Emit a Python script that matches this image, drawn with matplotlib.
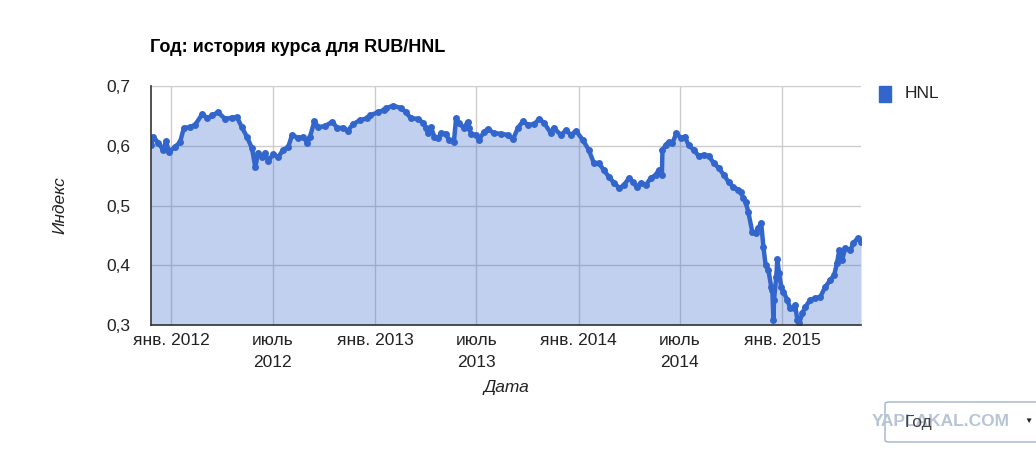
#!/usr/bin/env python3
"""RUB/HNL exchange rate history, Google Charts style area chart."""

import matplotlib
matplotlib.use("Agg")
import matplotlib.pyplot as plt
import matplotlib.patches as mpatches
import pandas as pd

plt.rcParams["font.family"] = ["Liberation Sans", "DejaVu Sans"]

TITLE = "Год: история курса для RUB/HNL"
SERIES_NAME = "HNL"

DATES = [
    "2011-11-26", "2011-11-30", "2011-12-09", "2011-12-18", "2011-12-23", "2011-12-28",
    "2012-01-08", "2012-01-17", "2012-01-24", "2012-02-04", "2012-02-13", "2012-02-26",
    "2012-03-06", "2012-03-15", "2012-03-25", "2012-04-07", "2012-04-19", "2012-04-28",
    "2012-05-07", "2012-05-16", "2012-05-25", "2012-05-31", "2012-06-05", "2012-06-12",
    "2012-06-18", "2012-06-23", "2012-07-02", "2012-07-11", "2012-07-20", "2012-07-29",
    "2012-08-05", "2012-08-16", "2012-08-25", "2012-09-01", "2012-09-06", "2012-09-14",
    "2012-09-21", "2012-10-03", "2012-10-16", "2012-10-25", "2012-11-05", "2012-11-13",
    "2012-11-22", "2012-12-05", "2012-12-18", "2012-12-23", "2013-01-06", "2013-01-17",
    "2013-01-21", "2013-02-02", "2013-02-17", "2013-02-25", "2013-03-06", "2013-03-19",
    "2013-03-28", "2013-04-02", "2013-04-06", "2013-04-11", "2013-04-17", "2013-04-24",
    "2013-04-29", "2013-05-08", "2013-05-13", "2013-05-22", "2013-05-26", "2013-05-31",
    "2013-06-09", "2013-06-16", "2013-06-18", "2013-06-22", "2013-07-01", "2013-07-06",
    "2013-07-15", "2013-07-22", "2013-08-02", "2013-08-15", "2013-08-27", "2013-09-05",
    "2013-09-14", "2013-09-23", "2013-10-02", "2013-10-13", "2013-10-22", "2013-10-31",
    "2013-11-12", "2013-11-17", "2013-11-30", "2013-12-09", "2013-12-18", "2013-12-27",
    "2014-01-08", "2014-01-19", "2014-01-28", "2014-02-06", "2014-02-15", "2014-02-24",
    "2014-03-05", "2014-03-15", "2014-03-23", "2014-04-01", "2014-04-08", "2014-04-15",
    "2014-04-22", "2014-05-01", "2014-05-10", "2014-05-19", "2014-05-24", "2014-05-30",
    "2014-05-31", "2014-06-06", "2014-06-11", "2014-06-18", "2014-06-25", "2014-07-03",
    "2014-07-10", "2014-07-17", "2014-07-26", "2014-08-04", "2014-08-13", "2014-08-22",
    "2014-08-31", "2014-09-09", "2014-09-18", "2014-09-27", "2014-10-05", "2014-10-14",
    "2014-10-18", "2014-10-23", "2014-10-27", "2014-11-01", "2014-11-08", "2014-11-14",
    "2014-11-19", "2014-11-24", "2014-11-28", "2014-12-02", "2014-12-07", "2014-12-12",
    "2014-12-14", "2014-12-16", "2014-12-17", "2014-12-21", "2014-12-23", "2014-12-26",
    "2014-12-30", "2015-01-03", "2015-01-10", "2015-01-15", "2015-01-21", "2015-01-24",
    "2015-01-28", "2015-01-31", "2015-02-06", "2015-02-11", "2015-02-20", "2015-03-01",
    "2015-03-10", "2015-03-19", "2015-03-28", "2015-04-04", "2015-04-09", "2015-04-13",
    "2015-04-18", "2015-04-24", "2015-05-03", "2015-05-08", "2015-05-17", "2015-05-22",
]

RATES = [
    0.601, 0.615, 0.605, 0.593, 0.608, 0.590,
    0.598, 0.606, 0.630, 0.631, 0.635, 0.653,
    0.646, 0.651, 0.656, 0.645, 0.647, 0.648,
    0.631, 0.615, 0.596, 0.564, 0.588, 0.581,
    0.588, 0.574, 0.586, 0.581, 0.593, 0.598,
    0.618, 0.613, 0.615, 0.605, 0.615, 0.641,
    0.631, 0.633, 0.640, 0.630, 0.630, 0.625,
    0.636, 0.643, 0.646, 0.651, 0.656, 0.660,
    0.663, 0.667, 0.663, 0.656, 0.646, 0.645,
    0.638, 0.630, 0.621, 0.631, 0.615, 0.613,
    0.621, 0.620, 0.610, 0.606, 0.646, 0.638,
    0.630, 0.640, 0.630, 0.620, 0.618, 0.610,
    0.623, 0.628, 0.621, 0.620, 0.618, 0.611,
    0.630, 0.641, 0.635, 0.636, 0.645, 0.638,
    0.621, 0.630, 0.618, 0.626, 0.618, 0.625,
    0.610, 0.593, 0.571, 0.571, 0.559, 0.548,
    0.538, 0.529, 0.534, 0.546, 0.539, 0.531,
    0.538, 0.534, 0.546, 0.551, 0.559, 0.551,
    0.593, 0.601, 0.606, 0.605, 0.621, 0.613,
    0.615, 0.601, 0.593, 0.583, 0.585, 0.583,
    0.571, 0.563, 0.551, 0.539, 0.531, 0.526,
    0.523, 0.513, 0.506, 0.489, 0.456, 0.454,
    0.462, 0.471, 0.431, 0.400, 0.392, 0.364,
    0.359, 0.308, 0.342, 0.380, 0.410, 0.387,
    0.364, 0.355, 0.342, 0.328, 0.328, 0.333,
    0.308, 0.303, 0.320, 0.330, 0.342, 0.345,
    0.347, 0.364, 0.375, 0.384, 0.404, 0.425,
    0.409, 0.429, 0.425, 0.437, 0.446, 0.439,
]

Y_TICKS = [0.3, 0.4, 0.5, 0.6, 0.7]
Y_TICK_LABELS = ["0,3", "0,4", "0,5", "0,6", "0,7"]
X_TICKS = ["2012-01-01", "2012-07-01", "2013-01-01", "2013-07-01",
           "2014-01-01", "2014-07-01", "2015-01-01"]
X_TICK_LABELS = ["янв. 2012", "июль\n2012", "янв. 2013", "июль\n2013",
                 "янв. 2014", "июль\n2014", "янв. 2015"]

BLUE = "#3366cc"
GRID = "#cccccc"
TEXT = "#222222"


def main():
    dates = pd.to_datetime(DATES)
    xticks = pd.to_datetime(X_TICKS)

    W, H = 1036, 453
    fig = plt.figure(figsize=(W / 100, H / 100), dpi=100)
    ax = fig.add_axes([151 / W, 1 - 325 / H, 710 / W, 239 / H])

    ax.fill_between(dates, RATES, 0.3, color=BLUE, alpha=0.3, linewidth=0, zorder=2)
    ax.plot(dates, RATES, color=BLUE, linewidth=3.2, marker="o", markersize=5,
            markeredgewidth=0, zorder=3)

    ax.set_xlim(pd.Timestamp(DATES[0]), pd.Timestamp(DATES[-1]))
    ax.set_ylim(0.3, 0.7)
    ax.set_yticks(Y_TICKS)
    ax.set_yticklabels(Y_TICK_LABELS)
    ax.set_xticks(xticks)
    ax.set_xticklabels(X_TICK_LABELS, linespacing=1.55, va="top")
    ax.tick_params(length=0, labelsize=12.5, colors=TEXT)
    ax.tick_params(axis="y", pad=15)
    ax.tick_params(axis="x", pad=6)

    ax.grid(True, color=GRID, linewidth=1, zorder=0)
    ax.set_axisbelow(True)
    for side in ("top", "right"):
        ax.spines[side].set_visible(False)
    for side in ("left", "bottom"):
        ax.spines[side].set_color("#333333")
        ax.spines[side].set_linewidth(1.2)
        ax.spines[side].set_zorder(4)

    ax.set_xlabel("Дата", fontstyle="italic", fontsize=12.5, color=TEXT, labelpad=7)
    ax.set_ylabel("Индекс", fontstyle="italic", fontsize=12.5, color=TEXT, labelpad=28)

    fig.text(150 / W, 1 - 47 / H, TITLE, fontsize=13, fontweight="bold",
             color="#000000", va="center", ha="left")

    # legend
    fig.patches.append(mpatches.Rectangle((879 / W, 1 - 102 / H), 12 / W, 16 / H,
                                          transform=fig.transFigure, color=BLUE))
    fig.text(905 / W, 1 - 94 / H, SERIES_NAME, fontsize=12.5, color=TEXT,
             va="center", ha="left")

    # range selector box at bottom right
    fig.patches.append(mpatches.FancyBboxPatch(
        (885 / W, 1 - 442 / H), 160 / W, 40 / H, boxstyle="round,pad=0,rounding_size=0.004",
        transform=fig.transFigure, facecolor="white", edgecolor="#9fb4cc", linewidth=1))
    fig.text(872 / W, 1 - 422 / H, "YAPLAKAL.COM", fontsize=12.5, fontweight="bold",
             color="#b7c4d6", va="center", ha="left")
    fig.text(905 / W, 1 - 422 / H, "Год", fontsize=12.5, color="#444444",
             va="center", ha="left")
    fig.text(1028 / W, 1 - 421 / H, "▼", fontsize=6, color="#222222",
             va="center", ha="center")

    fig.savefig("out.png", dpi=100)


if __name__ == "__main__":
    main()
